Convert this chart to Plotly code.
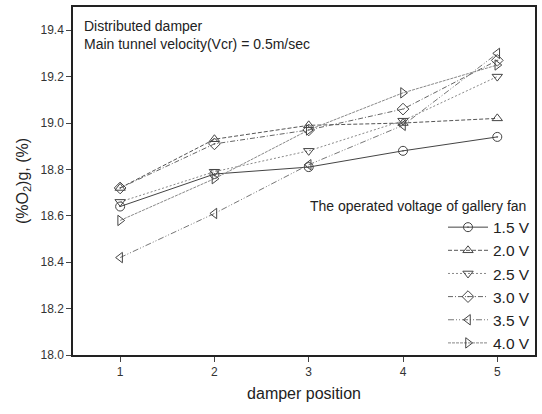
import plotly.graph_objects as go

positions = [1, 2, 3, 4, 5]
v15 = [18.64, 18.78, 18.81, 18.88, 18.94]
v20 = [18.72, 18.93, 18.99, 19.00, 19.02]
v25 = [18.66, 18.79, 18.88, 19.01, 19.20]
v30 = [18.72, 18.91, 18.97, 19.06, 19.27]
v35 = [18.42, 18.61, 18.82, 18.99, 19.30]
v40 = [18.58, 18.76, 18.97, 19.13, 19.25]

names = ["1.5 V", "2.0 V", "2.5 V", "3.0 V", "3.5 V", "4.0 V"]
series = [v15, v20, v25, v30, v35, v40]
symbols = ["circle-open-dot", "triangle-up-open", "triangle-down-open",
           "diamond-open-dot", "triangle-left-open", "triangle-right-open"]
dashes = ["solid", "4px,2px", "2px,2px", "5px,2px,1px,2px", "6px,2px,1px,2px,1px,2px", "3px,1px"]
colors = ["#444444", "#555555", "#888888", "#666666", "#777777", "#888888"]

fig = go.Figure()
for n, s, sym, d, c in zip(names, series, symbols, dashes, colors):
    fig.add_trace(go.Scatter(
        x=positions, y=s, name=n, mode="lines+markers",
        line=dict(color=c, width=1, dash=d),
        marker=dict(symbol=sym, size=9, color="#444444",
                    line=dict(width=1, color="#444444")),
    ))

font_family = "Liberation Sans, Arial, sans-serif"
fig.update_layout(
    width=542, height=414,
    margin=dict(l=73, r=5, t=5, b=59),
    paper_bgcolor="white", plot_bgcolor="white",
    font=dict(family=font_family, color="#222222"),
    showlegend=True,
    legend=dict(x=1.0, y=0.415, xanchor="right", yanchor="top",
                bgcolor="rgba(0,0,0,0)", font=dict(size=15.5, color="#222222"),
                tracegroupgap=0, itemwidth=40),
    xaxis=dict(range=[0.5, 5.4], tickvals=positions, ticks="outside", ticklen=5,
               showline=True, linecolor="#222222", linewidth=1.5, mirror=True,
               showgrid=False, zeroline=False,
               tickfont=dict(size=12, color="#333333"),
               title=dict(text="damper position", font=dict(size=16, color="#222222"), standoff=10)),
    yaxis=dict(range=[18.0, 19.5], tickvals=[18.0, 18.2, 18.4, 18.6, 18.8, 19.0, 19.2, 19.4],
               tickformat=".1f", ticks="outside", ticklen=5,
               showline=True, linecolor="#222222", linewidth=1.5, mirror=True,
               showgrid=False, zeroline=False,
               tickfont=dict(size=12, color="#333333"),
               title=dict(text="(%O<sub>2</sub>)g, (%)", font=dict(size=16, color="#222222"), standoff=8)),
    annotations=[
        dict(text="Distributed damper<br>Main tunnel velocity(Vcr) = 0.5m/sec",
             xref="paper", yref="paper", x=0.02, y=0.975, xanchor="left", yanchor="top",
             showarrow=False, align="left", font=dict(size=14, color="#222222")),
        dict(text="The operated voltage of gallery fan",
             xref="paper", yref="paper", x=0.985, y=0.4286, xanchor="right", yanchor="middle",
             showarrow=False, align="right", font=dict(size=14, color="#222222")),
    ],
)

fig.write_html("out.html")
